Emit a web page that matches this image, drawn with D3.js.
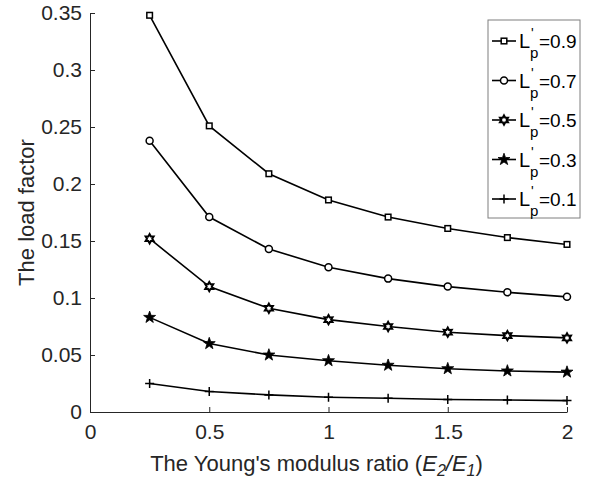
<!DOCTYPE html>
<html>
<head>
<meta charset="utf-8">
<style>
  body { margin: 0; background: #fff; }
  svg { font-family: "Liberation Sans", Arial, sans-serif; }
  .axis text { font-size: 21px; fill: #262626; }
  .axis path, .axis line { stroke: #262626; }
</style>
</head>
<body>
<script src="https://cdn.jsdelivr.net/npm/d3@7"></script>
<script>

// Data
var ratios = [0.25, 0.5, 0.75, 1.0, 1.25, 1.5, 1.75, 2.0];
var lp09 = [0.348, 0.251, 0.209, 0.186, 0.171, 0.161, 0.153, 0.147];
var lp07 = [0.238, 0.171, 0.143, 0.127, 0.117, 0.110, 0.105, 0.101];
var lp05 = [0.152, 0.110, 0.091, 0.081, 0.075, 0.070, 0.067, 0.065];
var lp03 = [0.083, 0.060, 0.050, 0.045, 0.041, 0.038, 0.036, 0.035];
var lp01 = [0.025, 0.018, 0.015, 0.013, 0.012, 0.011, 0.0105, 0.010];
var legendLabels = ["=0.9", "=0.7", "=0.5", "=0.3", "=0.1"];
var xTicks = [0, 0.5, 1, 1.5, 2];
var yTicks = [0, 0.05, 0.1, 0.15, 0.2, 0.25, 0.3, 0.35];

var series = [
  {values: lp09, marker: "square"},
  {values: lp07, marker: "circle"},
  {values: lp05, marker: "hexagram"},
  {values: lp03, marker: "pentagram"},
  {values: lp01, marker: "plus"}
];

var W = 603, H = 483;
var margin = {top: 13, right: 36, bottom: 71, left: 90},
    width  = W - margin.left - margin.right,
    height = H - margin.top - margin.bottom;

var x = d3.scaleLinear().domain([0, 2]).range([0, width]);
var y = d3.scaleLinear().domain([0, 0.35]).range([height, 0]);

var svg = d3.select("body").append("svg")
    .attr("width", W).attr("height", H)
  .append("g")
    .attr("transform", `translate(${margin.left},${margin.top})`);

// axes, ticks pointing inward like matlab
svg.append("g").attr("class", "axis")
    .attr("transform", `translate(0,${height})`)
    .call(d3.axisBottom(x).tickValues(xTicks).tickSize(-5).tickSizeOuter(0)
      .tickPadding(12).tickFormat(d3.format("~g")));
svg.append("g").attr("class", "axis")
    .call(d3.axisLeft(y).tickValues(yTicks).tickSize(-5).tickSizeOuter(0)
      .tickPadding(8).tickFormat(d3.format("~g")));

// marker shapes
function starPath(n, ro, ri) {
  var pts = [];
  for (var i = 0; i < 2 * n; i++) {
    var r = i % 2 ? ri : ro, a = -Math.PI / 2 + i * Math.PI / n;
    pts.push([r * Math.cos(a), r * Math.sin(a)]);
  }
  return "M" + pts.map(p => p[0].toFixed(2) + "," + p[1].toFixed(2)).join("L") + "Z";
}
function drawMarker(sel, type) {
  if (type == "square") {
    sel.append("rect").attr("x", -2.8).attr("y", -2.8).attr("width", 5.6).attr("height", 5.6)
      .attr("fill", "#fff").attr("stroke", "#000").attr("stroke-width", 1.5);
  } else if (type == "circle") {
    sel.append("circle").attr("r", 3.5)
      .attr("fill", "#fff").attr("stroke", "#000").attr("stroke-width", 1.5);
  } else if (type == "hexagram") {
    sel.append("path").attr("d", starPath(6, 4.6, 2.6))
      .attr("fill", "#fff").attr("stroke", "#000").attr("stroke-width", 2);
  } else if (type == "pentagram") {
    sel.append("path").attr("d", starPath(5, 6.3, 2.5))
      .attr("fill", "#000").attr("stroke", "#000").attr("stroke-width", 0.8);
  } else {
    sel.append("path").attr("d", "M-4.5,0H4.5M0,-4.5V4.5")
      .attr("stroke", "#000").attr("stroke-width", 1.5);
  }
}

var line = d3.line()
    .x((d, i) => x(ratios[i]))
    .y(d => y(d));

series.forEach(function(s) {
  svg.append("path")
      .attr("d", line(s.values))
      .attr("fill", "none").attr("stroke", "#000").attr("stroke-width", 1.6);
  svg.selectAll(null)
      .data(s.values)
    .enter().append("g")
      .attr("transform", (d, i) => `translate(${x(ratios[i])},${y(d)})`)
      .each(function() { drawMarker(d3.select(this), s.marker); });
});

// axis titles
svg.append("text")
    .attr("transform", `translate(${34 - margin.left},${height / 2}) rotate(-90)`)
    .attr("text-anchor", "middle")
    .attr("font-size", 22).attr("fill", "#262626")
    .text("The load factor");

var xt = svg.append("text")
    .attr("x", width / 2 - 12).attr("y", height + 59)
    .attr("text-anchor", "middle")
    .attr("font-size", 22).attr("fill", "#262626");
xt.append("tspan").text("The Young's modulus ratio (");
xt.append("tspan").attr("font-style", "italic").text("E");
xt.append("tspan").attr("font-style", "italic").attr("font-size", 16).attr("dy", 5).text("2");
xt.append("tspan").attr("font-style", "italic").attr("dy", -5).text("/E");
xt.append("tspan").attr("font-style", "italic").attr("font-size", 16).attr("dy", 5).text("1");
xt.append("tspan").attr("dy", -5).text(")");

// legend
var lg = svg.append("g")
    .attr("transform", `translate(${488 - margin.left},${20 - margin.top})`);
lg.append("rect")
    .attr("width", 92).attr("height", 198)
    .attr("fill", "#fff").attr("stroke", "#7f7f7f").attr("stroke-width", 1);

series.forEach(function(s, i) {
  var row = lg.append("g").attr("transform", `translate(0,${21 + i * 39.5})`);
  row.append("line").attr("x1", 4).attr("x2", 28)
      .attr("stroke", "#000").attr("stroke-width", 1.6);
  drawMarker(row.append("g").attr("transform", "translate(16,0)"), s.marker);
  row.append("text").attr("x", 31).attr("y", 7)
      .attr("font-size", 20).attr("fill", "#000").text("L");
  row.append("text").attr("x", 43).attr("y", -3)
      .attr("font-size", 14).attr("fill", "#000").text("'");
  row.append("text").attr("x", 42).attr("y", 17)
      .attr("font-size", 15).attr("fill", "#000").text("p");
  row.append("text").attr("x", 51).attr("y", 7)
      .attr("font-size", 19).attr("fill", "#000").text(legendLabels[i]);
});

</script>
</body>
</html>
